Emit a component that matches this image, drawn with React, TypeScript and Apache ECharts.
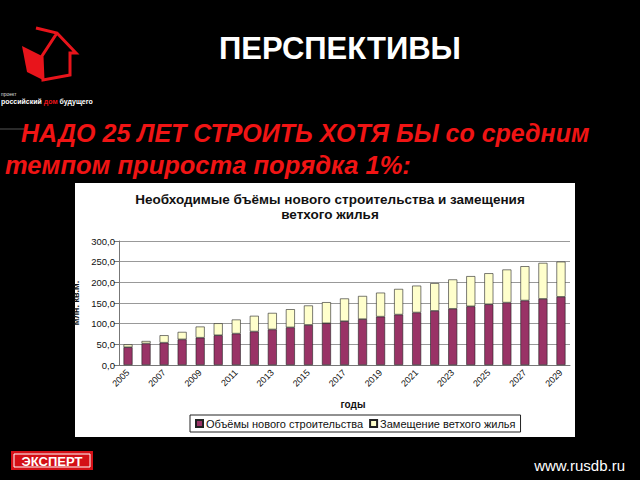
import React, { useEffect, useRef } from "react";
import * as echarts from "echarts";

const years = ["2005","2006","2007","2008","2009","2010","2011","2012","2013","2014","2015","2016","2017","2018","2019","2020","2021","2022","2023","2024","2025","2026","2027","2028","2029"];
const newBuild = [43,52,54,62,66,72,76,81,86,91,97,101,106,111,117,122,127,131,136,142,147,151,156,160,165];
const replacement = [7,6,18,18,27,29,34,38,40,44,47,51,55,56,58,62,65,67,71,73,75,80,83,87,85];
const seriesNames = ["Объёмы нового строительства", "Замещение ветхого жилья"];
const chartTitle = "Необходимые бъёмы нового строительства и замещения\nветхого жилья";
const slideTitle = "ПЕРСПЕКТИВЫ";
const line1 = "НАДО 25 ЛЕТ СТРОИТЬ ХОТЯ БЫ со средним";
const line2 = "темпом прироста порядка 1%:";

const FONT = "'Liberation Sans', Arial, sans-serif";

export default function App() {
  const ref = useRef<HTMLDivElement>(null);
  useEffect(() => {
    if (!ref.current) return;
    const chart = echarts.init(ref.current, null, { renderer: "svg" });
    chart.setOption({
      animation: false,
      backgroundColor: "#000",
      textStyle: { fontFamily: FONT },
      title: {
        text: chartTitle,
        left: 325,
        top: 187,
        textAlign: "center",
        textStyle: { fontSize: 13.5, fontWeight: "bold", color: "#111", lineHeight: 15, fontFamily: FONT },
      },
      legend: {
        left: 190,
        top: 415,
        itemWidth: 7,
        itemHeight: 7,
        itemGap: 6,
        padding: [3, 5],
        borderColor: "#222",
        borderWidth: 1,
        icon: "rect",
        textStyle: { fontSize: 11, color: "#111", fontFamily: FONT, padding: [0, 0, 0, -2] },
        data: seriesNames,
      },
      grid: { left: 119, right: 70, top: 241, bottom: 115 },
      xAxis: {
        type: "category",
        data: years,
        axisLine: { lineStyle: { color: "#777" } },
        axisTick: { alignWithLabel: false, interval: 0, lineStyle: { color: "#777" } },
        axisLabel: { interval: 1, rotate: 45, fontSize: 9, color: "#111", margin: 6, fontFamily: FONT },
      },
      yAxis: {
        type: "value",
        min: 0,
        max: 300,
        interval: 50,
        name: "млн. кв.м.",
        nameLocation: "middle",
        nameRotate: 90,
        nameGap: 32,
        nameTextStyle: { fontSize: 9, fontWeight: "bold", color: "#111", fontFamily: FONT },
        axisLine: { show: true, lineStyle: { color: "#777" } },
        axisTick: { show: true, lineStyle: { color: "#777" } },
        splitLine: { lineStyle: { color: "#999" } },
        axisLabel: {
          fontSize: 9.5,
          color: "#111",
          margin: 4,
          fontFamily: FONT,
          formatter: (v: number) => v.toFixed(1).replace(".", ","),
        },
      },
      series: [
        {
          name: seriesNames[0],
          type: "bar",
          stack: "total",
          data: newBuild,
          barWidth: 9,
          itemStyle: { color: "#993366", borderColor: "#222", borderWidth: 0.6 },
        },
        {
          name: seriesNames[1],
          type: "bar",
          stack: "total",
          data: replacement,
          barWidth: 9,
          itemStyle: { color: "#FFFFCC", borderColor: "#222", borderWidth: 0.6 },
        },
      ],
      graphic: [
        { type: "rect", z: -10, shape: { x: 75, y: 183, width: 500, height: 254 }, style: { fill: "#fff" } },
        {
          type: "text",
          x: 340,
          y: 48,
          style: { text: slideTitle, fill: "#fff", font: `bold 31px ${FONT}`, textAlign: "center", textVerticalAlign: "middle" },
        },
        {
          type: "text",
          x: 21,
          y: 133,
          style: { text: line1, fill: "#f01414", font: `italic bold 25px ${FONT}`, textAlign: "left", textVerticalAlign: "middle" },
        },
        {
          type: "text",
          x: 5,
          y: 165,
          style: { text: line2, fill: "#f01414", font: `italic bold 25.5px ${FONT}`, textAlign: "left", textVerticalAlign: "middle" },
        },
        { type: "line", shape: { x1: 0, y1: 129, x2: 24, y2: 129 }, style: { stroke: "#555", lineWidth: 1 } },
        {
          type: "text",
          x: 353,
          y: 404,
          style: { text: "годы", fill: "#111", font: `bold 10px ${FONT}`, textAlign: "center", textVerticalAlign: "middle" },
        },
        // house logo
        {
          type: "polygon",
          shape: { points: [[22, 46], [42, 56], [43, 80], [27, 72]] },
          style: { fill: "#e8141b" },
        },
        {
          type: "polyline",
          shape: { points: [[36, 28], [57, 33], [76, 53], [70, 53], [70, 75], [43, 80], [42, 56], [57, 33]] },
          style: { stroke: "#e8141b", lineWidth: 3, fill: "none" },
        },
        {
          type: "text",
          x: 1,
          y: 94,
          style: { text: "проект", fill: "#ddd", font: `5px ${FONT}`, textVerticalAlign: "middle" },
        },
        {
          type: "text",
          x: 1,
          y: 101,
          style: {
            text: "{w|российский }{r|дом}{w| будущего}",
            textVerticalAlign: "middle",
            rich: {
              w: { fill: "#fff", font: `bold 7px ${FONT}` },
              r: { fill: "#e8141b", font: `bold 7px ${FONT}` },
            },
          },
        },
        // ЭКСПЕРТ logo
        { type: "rect", shape: { x: 11, y: 451, width: 82, height: 19 }, style: { fill: "#d41016" } },
        { type: "rect", shape: { x: 14, y: 454, width: 76, height: 13 }, style: { fill: "none", stroke: "#fff", lineWidth: 1 } },
        {
          type: "text",
          x: 52,
          y: 461,
          style: { text: "ЭКСПЕРТ", fill: "#fff", font: `bold 13px ${FONT}`, textAlign: "center", textVerticalAlign: "middle" },
        },
        {
          type: "text",
          x: 625,
          y: 465,
          style: { text: "www.rusdb.ru", fill: "#fff", font: `15px ${FONT}`, textAlign: "right", textVerticalAlign: "middle" },
        },
      ],
    });
    return () => chart.dispose();
  }, []);
  return (
    <div
      ref={ref}
      style={{ position: "fixed", left: 0, top: 0, width: 640, height: 480, background: "#000" }}
    />
  );
}
